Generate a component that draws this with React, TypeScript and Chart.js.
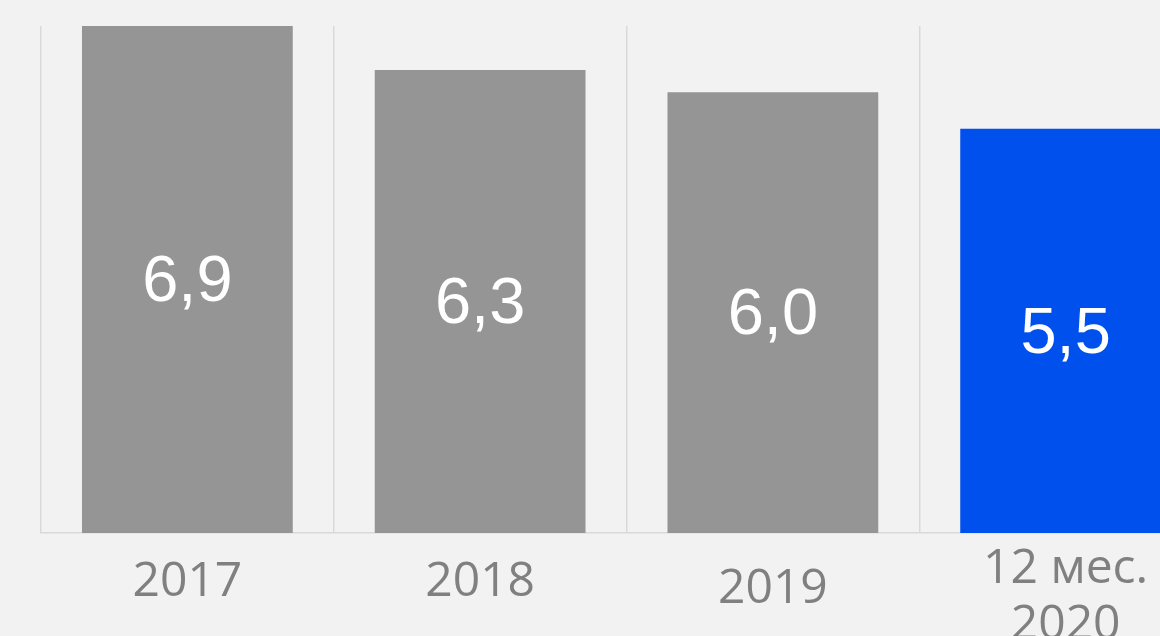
import React, { useEffect, useRef } from "react";
import { Chart, registerables } from "chart.js";

Chart.register(...registerables);

const categories: (string | string[])[] = ["2017", "2018", "2019", ["12 мес.", "2020"]];
const values: number[] = [6.9, 6.3, 6.0, 5.5];
const barColors: string[] = ["#959595", "#959595", "#959595", "#0050ee"];
const tickLineHeights: number[] = [82, 82, 96, 56];

const valueText = (v: number) => v.toFixed(1).replace(".", ",");

const barLabels = {
  id: "barLabels",
  afterDatasetsDraw(chart: any) {
    const ctx = chart.ctx;
    const meta = chart.getDatasetMeta(0);
    ctx.save();
    ctx.font = '65px "Liberation Sans", Arial, sans-serif';
    ctx.fillStyle = "#ffffff";
    ctx.textAlign = "center";
    ctx.textBaseline = "middle";
    meta.data.forEach((bar: any, i: number) => {
      const p = bar.getProps(["x", "y", "base"], true);
      ctx.fillText(valueText(values[i]), p.x, (p.y + p.base) / 2 + 4);
    });
    ctx.restore();
  },
};

export default function App() {
  const ref = useRef<HTMLCanvasElement | null>(null);
  useEffect(() => {
    const canvas = ref.current;
    if (!canvas) return;
    const chart = new Chart(canvas, {
      type: "bar",
      data: {
        labels: categories,
        datasets: [
          {
            data: values,
            backgroundColor: barColors,
            borderWidth: 0,
          },
        ],
      },
      options: {
        responsive: false,
        animation: false,
        devicePixelRatio: 1,
        layout: { padding: { top: 26, left: 41, right: 8, bottom: 0 } },
        plugins: { legend: { display: false }, tooltip: { enabled: false } },
        scales: {
          x: {
            grid: { color: "#d9d9d9", lineWidth: 1.5, drawTicks: false, offset: true },
            border: { color: "#d9d9d9", width: 1.5 },
            ticks: {
              color: "#808080",
              padding: 8,
              maxRotation: 0,
              autoSkip: false,
              font: (ctx: any) => ({
                family: '"Open Sans", sans-serif',
                size: 48,
                lineHeight: tickLineHeights[ctx.index] + "px",
              }),
            },
            afterFit: (scale: any) => {
              scale.height = 103;
            },
          },
          y: {
            display: false,
            min: 0,
            max: 6.9,
          },
        },
      },
      plugins: [barLabels],
    });
    return () => chart.destroy();
  }, []);
  return (
    <div
      style={{
        position: "fixed",
        left: 0,
        top: 0,
        width: 1160,
        height: 636,
        overflow: "hidden",
        background: "#f2f2f2",
      }}
    >
      <canvas ref={ref} width={1220} height={636} style={{ display: "block" }} />
    </div>
  );
}
